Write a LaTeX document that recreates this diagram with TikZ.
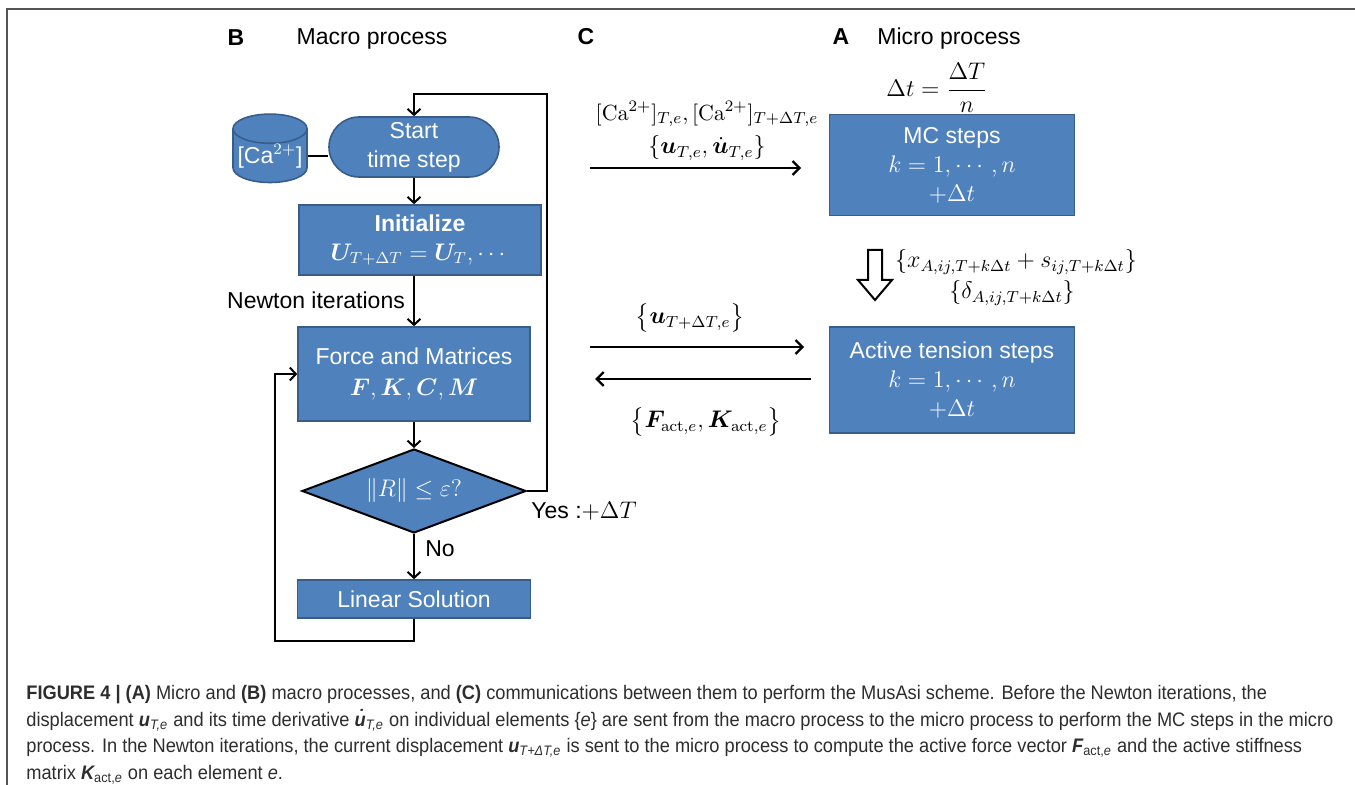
\documentclass[tikz,border=0pt]{standalone}
\usepackage{amsmath}
\usepackage{bm}
\usepackage[no-math]{fontspec}
\setmainfont{Liberation Sans}
\newfontfamily\capfont{Liberation Sans}[FakeStretch=0.93]
\usetikzlibrary{arrows.meta,shapes.geometric,shapes.misc,calc}
\definecolor{boxblue}{RGB}{79,129,189}
\definecolor{boxedge}{RGB}{56,93,138}
\definecolor{captxt}{RGB}{45,45,45}
\definecolor{framegray}{RGB}{85,85,85}
\tikzset{
  blk/.style={fill=boxblue, draw=boxedge, line width=0.8pt, text=white, align=center,
    inner sep=0pt, font=\fontsize{11.5}{14.5}\selectfont},
  flow/.style={line width=1pt, -{Straight Barb[length=3pt,width=6.5pt]}},
  comm/.style={line width=1.2pt, -{Straight Barb[length=3.5pt,width=7pt]}},
  ln/.style={line width=1pt},
  lbl/.style={font=\fontsize{11.5}{14}\selectfont, inner sep=0pt},
  hdr/.style={font=\fontsize{11.5}{14}\selectfont, inner sep=0pt},
  capl/.style={anchor=base west, inner sep=0pt, text=captxt, font=\capfont\fontsize{9.8}{13.5}\selectfont},
}
\begin{document}
\begin{tikzpicture}[x=0.5pt,y=-0.5pt]
\useasboundingbox (0,0) rectangle (1355,785);
% frame
\draw[framegray, line width=1pt] (7,785) -- (7,9) -- (1355,9);

% headers
\node[hdr, font=\fontsize{11.5}{14}\selectfont\bfseries] (hB) at (236,38) {B};
\node[hdr] (hmac) at (372,39) {Macro process};
\node[hdr, font=\fontsize{11.5}{14}\selectfont\bfseries] (hC) at (586,37) {C};
\node[hdr, font=\fontsize{11.5}{14}\selectfont\bfseries] (hA) at (841,37) {A};
\node[hdr] (hmic) at (949,39) {Micro process};

% macro flowchart
\node[blk, cylinder, shape border rotate=90, aspect=0.45, minimum width=37pt, minimum height=29.5pt,
  cylinder uses custom fill, cylinder body fill=boxblue, cylinder end fill=boxblue] (cyl) at (270,156) {[Ca$^{2+}$]};
\node[blk, rounded rectangle, minimum width=85pt, minimum height=30pt] (st) at (414,147) {Start\\time step};
\node[blk, minimum width=121pt, minimum height=35pt] (init) at (420,240)
  {\textbf{Initialize}\\$\bm{U}_{T+\Delta T}=\bm{U}_{T},\cdots$};
\node[blk, minimum width=116pt, minimum height=47pt] (force) at (414,374)
  {Force and Matrices\\[1pt]$\bm{F},\bm{K},\bm{C},\bm{M}$};
\node[blk, diamond, aspect=2.67, draw=black, line width=1pt, minimum width=112pt, minimum height=42pt] (dia) at (414,491) {$\|R\|\le\varepsilon ?$};
\node[blk, minimum width=116.5pt, minimum height=19pt] (lin) at (414,599) {Linear Solution};

\draw[ln] (cyl.east) -- (cyl.east -| st.west);
\draw[flow] (st.south) -- (st.south |- init.north);
\draw[flow] (st.south |- init.south) -- (force.north);
\draw[flow] (force.south) -- (dia.north);
\draw[flow] (dia.south) -- (lin.north);
\coordinate (lb) at (275,641);
\draw[flow] (lin.south) |- (lb) |- (force.west);
\coordinate (rt) at (547,94);
\draw[flow] (dia.east) -| (rt) -| (st.north);

\node[lbl] (newt) at (316,300) {Newton iterations};
\node[lbl] (yes) at (584,511) {Yes :$+\Delta T$};
\node[lbl] (no) at (440,549) {No};

% micro process
\node[lbl] (dt) at (937,88) {$\Delta t=\dfrac{\Delta T}{n}$};
\node[blk, minimum width=122.5pt, minimum height=50.5pt] (mc) at (952,165)
  {MC steps\\$k=1,\cdots,n$\\$+\Delta t$};
\node[blk, minimum width=122.5pt, minimum height=53pt] (act) at (952,380)
  {Active tension steps\\$k=1,\cdots,n$\\$+\Delta t$};
\draw[fill=white, line width=1pt] (868,250) -- (882,250) -- (882,280) -- (892,280) -- (875,300)
  -- (858,280) -- (868,280) -- cycle;
\node[lbl] (hlab1) at (1016,262)
  {$\{x_{A,ij,T+k\Delta t}+s_{ij,T+k\Delta t}\}$};
\node[lbl] (hlab2) at (1012,293)
  {$\{\delta_{A,ij,T+k\Delta t}\}$};

% communications
\coordinate (c1) at (590,168);
\coordinate (c2) at (590,347);
\coordinate (c3) at (595,379);
\draw[comm, shorten >=13.75pt] (c1) -- (c1 -| mc.west);
\draw[comm, shorten >=12.25pt] (c2) -- (c2 -| act.west);
\draw[comm, shorten <=9pt] (c3 -| act.west) -- (c3);
\node[lbl, font=\fontsize{11}{13}\selectfont] (l1) at (707,114) {$[\mathrm{Ca}^{2+}]_{T,e},[\mathrm{Ca}^{2+}]_{T+\Delta T,e}$};
\node[lbl] (l2) at (707,148) {$\{\bm{u}_{T,e},\dot{\bm{u}}_{T,e}\}$};
\node[lbl] (l3) at (690,318) {$\bigl\{\bm{u}_{T+\Delta T,e}\bigr\}$};
\node[lbl] (l4) at (706,422) {$\bigl\{\bm{F}_{\mathrm{act},e},\bm{K}_{\mathrm{act},e}\bigr\}$};

% caption
\node[capl] (cap1) at (26,699) {{\bfseries FIGURE 4 | (A)} Micro and {\bfseries (B)} macro processes, and {\bfseries (C)} communications between them to perform the MusAsi scheme. Before the Newton iterations, the};
\node[capl] (cap2) at (26,726) {displacement {\bfseries\itshape u}\textsubscript{\itshape T,e} and its time derivative {\bfseries\itshape \.{u}}\textsubscript{\itshape T,e} on individual elements \{{\itshape e}\} are sent from the macro process to the micro process to perform the MC steps in the micro};
\node[capl] (cap3) at (26,753) {process. In the Newton iterations, the current displacement {\bfseries\itshape u}\textsubscript{\itshape T+ΔT,e} is sent to the micro process to compute the active force vector {\bfseries\itshape F}\textsubscript{act,{\itshape e}} and the active stiffness};
\node[capl] (cap4) at (26,779) {matrix {\bfseries\itshape K}\textsubscript{act,{\itshape e}} on each element {\itshape e}.};
\end{tikzpicture}
\end{document}
